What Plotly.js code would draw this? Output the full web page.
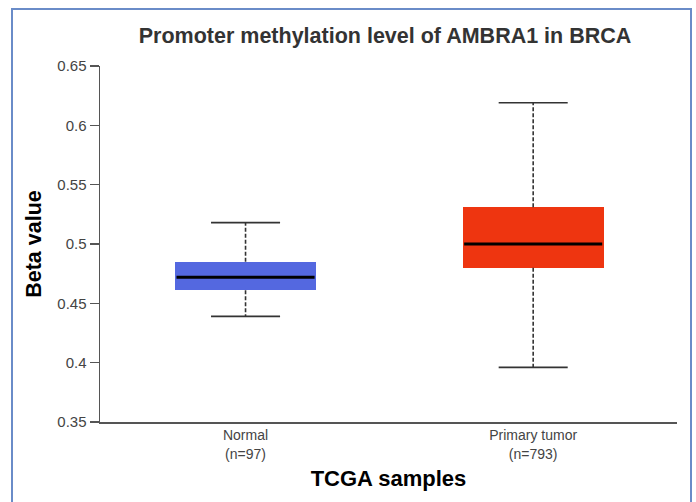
<!DOCTYPE html>
<html>
<head>
<meta charset="utf-8">
<script src="https://cdn.plot.ly/plotly-3.0.1.min.js"></script>
<style>
  html, body { margin: 0; padding: 0; background: #ffffff; }
  #chart { width: 696px; height: 502px; position: absolute; left: 0; top: 0; }
  #frame { position: absolute; left: 11px; top: 8px; width: 681px; height: 520px;
           border: 2px solid #6a8cc8; box-sizing: border-box; pointer-events: none; }
</style>
</head>
<body>
<div id="chart"></div>
<div id="frame"></div>
<script>
// Data
const categories = ["Normal", "Primary tumor"];
const sampleCounts = [97, 793];
const upperWhisker = [0.518, 0.619];
const q3Values = [0.485, 0.531];
const medianValues = [0.472, 0.500];
const q1Values = [0.461, 0.480];
const lowerWhisker = [0.439, 0.396];
const boxColors = ["#5468e0", "#ee3510"];
const tickLabels = categories.map((c, i) => c + "<br>(n=" + sampleCounts[i] + ")");

const positions = categories.map((_, i) => i);
const boxWidth = 0.49;
const capWidth = 0.24;

const traces = [];

// boxes (Q1..Q3)
traces.push({
  type: "bar",
  x: positions,
  base: q1Values,
  y: q3Values.map((v, i) => v - q1Values[i]),
  width: positions.map(() => boxWidth),
  marker: { color: boxColors, line: { width: 0 } },
  hoverinfo: "skip",
  showlegend: false
});

function segs(values, half) {
  const xs = [], ys = [];
  positions.forEach((p, i) => {
    xs.push(p - half, p + half, null);
    ys.push(values[i], values[i], null);
  });
  return { x: xs, y: ys };
}

// dashed whiskers
const wx = [], wy = [];
positions.forEach((p, i) => {
  wx.push(p, p, null, p, p, null);
  wy.push(q3Values[i], upperWhisker[i], null, q1Values[i], lowerWhisker[i], null);
});
traces.push({
  type: "scatter", mode: "lines", x: wx, y: wy,
  line: { color: "#333333", width: 1.6, dash: "4px,2px" },
  hoverinfo: "skip", showlegend: false
});

// whisker caps
const capsUp = segs(upperWhisker, capWidth / 2);
const capsLo = segs(lowerWhisker, capWidth / 2);
traces.push({
  type: "scatter", mode: "lines",
  x: capsUp.x.concat(capsLo.x), y: capsUp.y.concat(capsLo.y),
  line: { color: "#333333", width: 1.6 },
  hoverinfo: "skip", showlegend: false
});

// medians
const med = segs(medianValues, boxWidth / 2 - 0.005);
traces.push({
  type: "scatter", mode: "lines", x: med.x, y: med.y,
  line: { color: "#000000", width: 2.8 },
  hoverinfo: "skip", showlegend: false
});

const layout = {
  width: 696, height: 502,
  paper_bgcolor: "rgba(0,0,0,0)", plot_bgcolor: "rgba(0,0,0,0)",
  margin: { l: 100, r: 19, t: 66, b: 80 },
  font: { family: "Liberation Sans, Arial, sans-serif" },
  title: {
    text: "<b>Promoter methylation level of AMBRA1 in BRCA</b>",
    font: { size: 21.5, color: "#333333" },
    x: 0.494, xanchor: "center", xref: "paper", y: 0.93, yanchor: "middle", yref: "container"
  },
  xaxis: {
    range: [-0.506, 1.5],
    tickvals: positions, ticktext: tickLabels,
    showgrid: false, zeroline: false,
    showline: true, linecolor: "#555555", linewidth: 1.5,
    ticks: "", tickfont: { size: 14, color: "#444444" },
    title: { text: "<b>TCGA samples</b>", font: { size: 22, color: "#000000" }, standoff: 10 },
    fixedrange: true
  },
  yaxis: {
    range: [0.35, 0.65],
    tickvals: [0.35, 0.4, 0.45, 0.5, 0.55, 0.6, 0.65],
    ticktext: ["0.35", "0.4", "0.45", "0.5", "0.55", "0.6", "0.65"],
    showgrid: false, zeroline: false,
    showline: true, linecolor: "#555555", linewidth: 1.5,
    ticks: "outside", ticklen: 9, tickwidth: 1.5, tickcolor: "#555555",
    tickfont: { size: 15, color: "#444444" },
    title: { text: "<b>Beta value</b>", font: { size: 21.5, color: "#000000" }, standoff: 10 },
    fixedrange: true
  },
  bargap: 0,
  showlegend: false
};

Plotly.newPlot("chart", traces, layout, { displayModeBar: false, staticPlot: true });
</script>
</body>
</html>
